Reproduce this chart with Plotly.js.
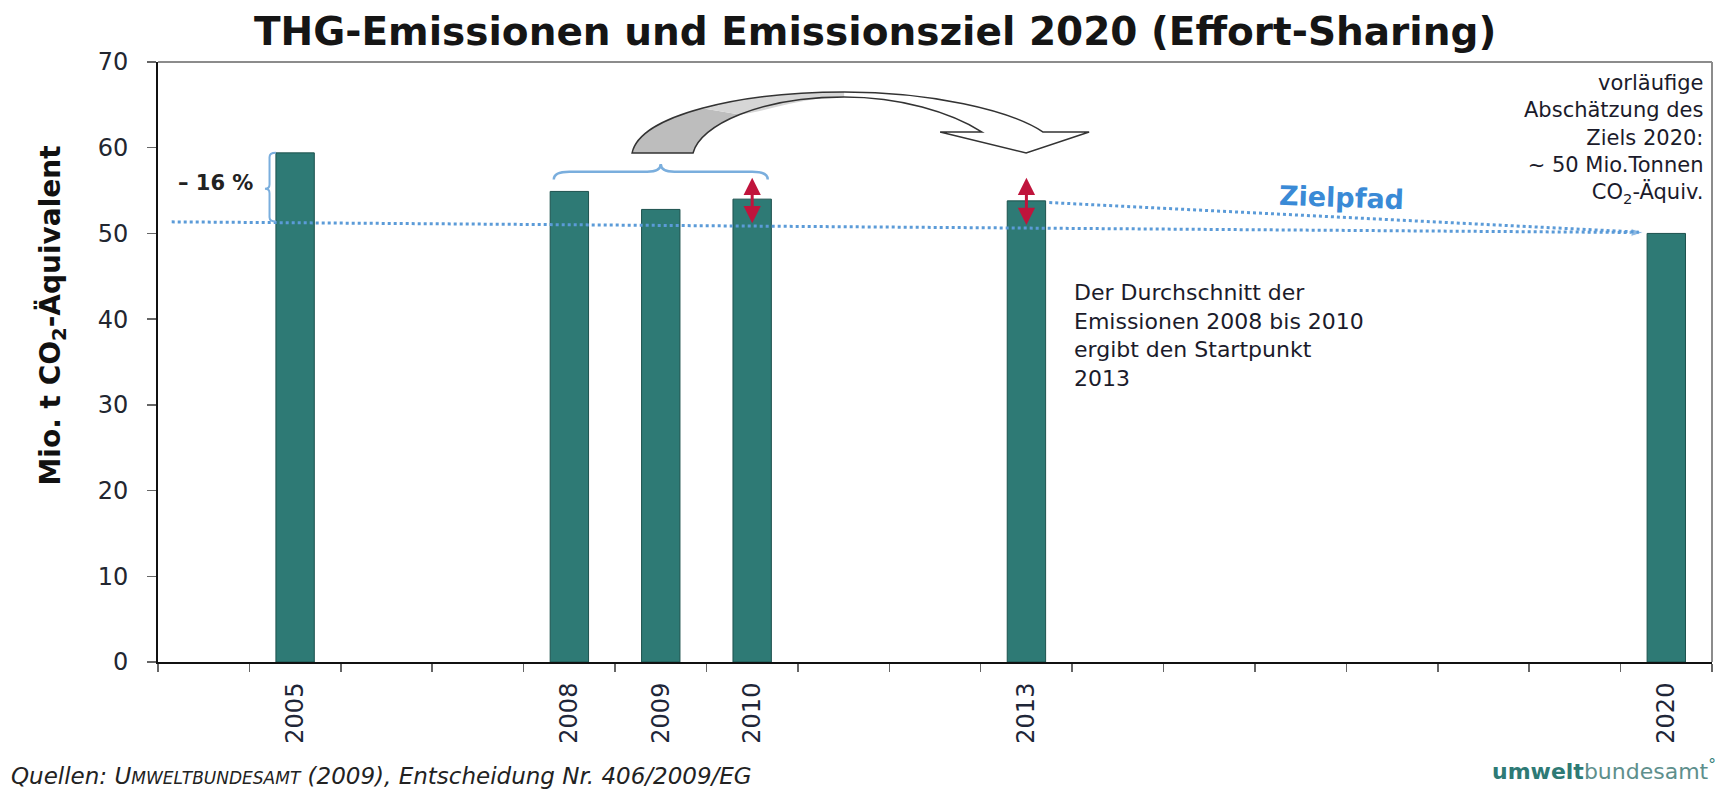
<!DOCTYPE html>
<html>
<head>
<meta charset="utf-8">
<script src="https://cdn.plot.ly/plotly-3.0.1.min.js"></script>
<style>
  html, body { margin: 0; padding: 0; background: #ffffff; }
  #chart { width: 1726px; height: 792px; }
</style>
</head>
<body>
<div id="chart"></div>
<script>
// ---------- data ----------
const years = [2005, 2008, 2009, 2010, 2013, 2020];
const emissions = [59.4, 54.9, 52.8, 54.0, 53.8, 50.0];
const yearLabels = ['2005', '2008', '2009', '2010', '2013', '2020'];

// reference line (2005 minus 16 %) and target path ("Zielpfad")
const basisX = [2003.65, 2019.75];
const basisY = [51.35, 50.1];
const zielpfadX = [2013.25, 2019.7];
const zielpfadY = [53.6, 50.15];

// red double arrows (gap between bars and the path)
const gapYears = [2010, 2013];
const gapTop = [56.5, 56.5];
const gapBottom = [51.0, 50.8];

const yTicks = [0, 10, 20, 30, 40, 50, 60, 70];
const xRange = [2003.5, 2020.5];

// ---------- style ----------
const FONT = 'DejaVu Sans, Verdana, sans-serif';
const TEAL = '#2E7A75';
const BLUE = '#5B9BD8';
const RED = '#C0143C';

const boundaries = [];
for (let b = xRange[0]; b <= xRange[1] + 1e-9; b += 1) boundaries.push(b);

const traces = [
  {
    type: 'bar',
    x: years,
    y: emissions,
    width: 0.42,
    marker: { color: TEAL, line: { color: '#1D524E', width: 1 } },
    hoverinfo: 'x+y',
    showlegend: false
  },
  {
    type: 'scatter',
    mode: 'lines+markers',
    x: basisX,
    y: basisY,
    line: { color: BLUE, width: 3, dash: 'dot' },
    marker: { symbol: 'arrow', angleref: 'previous', size: [0, 13], color: BLUE },
    hoverinfo: 'skip',
    showlegend: false
  },
  {
    type: 'scatter',
    mode: 'lines',
    x: zielpfadX,
    y: zielpfadY,
    line: { color: BLUE, width: 3, dash: 'dot' },
    hoverinfo: 'skip',
    showlegend: false
  }
];

const annotations = [
  // y axis title
  {
    xref: 'paper', yref: 'paper', x: -0.068, y: 0.578,
    text: '<b>Mio. t CO<sub>2</sub>-Äquivalent</b>',
    textangle: -90, showarrow: false,
    font: { family: FONT, size: 28, color: '#111111' },
    xanchor: 'center', yanchor: 'middle'
  },
  // -16 %
  {
    xref: 'x', yref: 'y', x: 2004.13, y: 55.9,
    text: '<b>– 16 %</b>', showarrow: false,
    font: { family: FONT, size: 21, color: '#222222' },
    xanchor: 'center', yanchor: 'middle'
  },
  // Zielpfad
  {
    xref: 'x', yref: 'y', x: 2016.45, y: 54.15,
    text: '<b>Zielpfad</b>', showarrow: false, textangle: 2,
    font: { family: FONT, size: 27, color: '#3A8AD6' },
    xanchor: 'center', yanchor: 'middle'
  },
  // explanation text
  {
    xref: 'x', yref: 'y', x: 2013.5, y: 44.8,
    text: 'Der Durchschnitt der<br>Emissionen 2008 bis 2010<br>ergibt den Startpunkt<br>2013',
    showarrow: false, align: 'left',
    font: { family: FONT, size: 22, color: '#1b1b2b' },
    xanchor: 'left', yanchor: 'top'
  },
  // target estimate text
  {
    xref: 'x', yref: 'y', x: 2020.42, y: 69.2,
    text: 'vorläufige<br>Abschätzung des<br>Ziels 2020:<br>~ 50 Mio.Tonnen<br>CO<sub>2</sub>-Äquiv.',
    showarrow: false, align: 'right',
    font: { family: FONT, size: 21, color: '#1b1b2b' },
    xanchor: 'right', yanchor: 'top'
  },
  // footer source
  {
    xref: 'paper', yref: 'paper', x: -0.0959, y: -0.19,
    text: '<i>Quellen: U<span style="font-size:17px">MWELTBUNDESAMT</span> (2009), Entscheidung Nr. 406/2009/EG</i>',
    showarrow: false, align: 'left',
    font: { family: FONT, size: 23, color: '#222222' },
    xanchor: 'left', yanchor: 'middle'
  },
  // logo text
  {
    xref: 'paper', yref: 'paper', x: 1.004, y: -0.18,
    text: '<b>umwelt</b><span style="color:#5E8F8C">bundesamt</span><sup>°</sup>',
    showarrow: false, align: 'right',
    font: { family: FONT, size: 22, color: '#2E7A75' },
    xanchor: 'right', yanchor: 'middle'
  }
];

// red double arrows
gapYears.forEach(function (yr, i) {
  annotations.push({
    xref: 'x', yref: 'y', axref: 'x', ayref: 'y',
    x: yr, y: gapTop[i], ax: yr, ay: gapBottom[i],
    text: '', showarrow: true,
    arrowhead: 2, startarrowhead: 2, arrowside: 'end+start',
    arrowsize: 1.15, startarrowsize: 1.15,
    arrowwidth: 3, arrowcolor: RED,
    standoff: 0, startstandoff: 0
  });
});

const arrowPath = 'M 2008.686,59.38 C 2008.773,63.81 2009.868,66.50 2011.006,66.50 ' +
  'C 2011.946,66.50 2012.822,64.40 2013.183,61.83 ' +
  'L 2013.686,61.83 L 2012.997,59.38 L 2012.056,61.83 L 2012.515,61.83 ' +
  'C 2012.165,64.16 2011.618,65.91 2011.006,65.91 ' +
  'C 2010.086,65.91 2009.431,62.67 2009.353,59.38 Z';

const shapes = [
  // top and right frame (grey)
  { type: 'line', xref: 'paper', yref: 'paper', x0: 0, x1: 1, y0: 1, y1: 1,
    line: { color: '#8C8C8C', width: 2 } },
  { type: 'line', xref: 'paper', yref: 'paper', x0: 1, x1: 1, y0: 0, y1: 1,
    line: { color: '#8C8C8C', width: 2 } },
  // curved arrow: white body
  { type: 'path', xref: 'x', yref: 'y', layer: 'above', path: arrowPath,
    fillcolor: '#ffffff', line: { color: 'rgba(0,0,0,0)', width: 0 } },
  // grey gradient-like tail bands
  { type: 'path', xref: 'x', yref: 'y', layer: 'above',
    path: 'M 2008.686,59.38 C 2008.730,61.60 2009.025,63.38 2009.452,64.60 ' +
          'L 2009.863,63.87 C 2009.575,62.67 2009.392,61.02 2009.353,59.38 Z',
    fillcolor: '#BDBDBD', line: { color: 'rgba(0,0,0,0)', width: 0 } },
  { type: 'path', xref: 'x', yref: 'y', layer: 'above',
    path: 'M 2009.452,64.60 C 2009.878,65.83 2010.437,66.50 2011.006,66.50 ' +
          'L 2011.006,65.91 C 2010.546,65.91 2010.152,64.20 2009.863,63.87 Z',
    fillcolor: '#D6D6D6', line: { color: 'rgba(0,0,0,0)', width: 0 } },
  // outline of curved arrow
  { type: 'path', xref: 'x', yref: 'y', layer: 'above', path: arrowPath,
    fillcolor: 'rgba(0,0,0,0)', line: { color: '#333333', width: 1.5 } },
  // brace over 2008-2010
  { type: 'path', xref: 'x', yref: 'y', layer: 'above',
    path: 'M 2007.83,56.3 Q 2007.83,57.2 2008.0,57.2 L 2008.85,57.2 ' +
          'Q 2009.0,57.2 2009.0,58.1 Q 2009.0,57.2 2009.15,57.2 ' +
          'L 2010.0,57.2 Q 2010.17,57.2 2010.17,56.3',
    line: { color: '#7AAEDD', width: 2.5 } },
  // brace next to 2005 bar
  { type: 'path', xref: 'x', yref: 'y', layer: 'above',
    path: 'M 2004.79,59.4 Q 2004.72,59.4 2004.72,58.9 L 2004.72,55.7 ' +
          'Q 2004.72,55.2 2004.67,55.2 Q 2004.72,55.2 2004.72,54.7 ' +
          'L 2004.72,51.9 Q 2004.72,51.4 2004.79,51.4',
    line: { color: '#7AAEDD', width: 2 } }
];

const layout = {
  width: 1726,
  height: 792,
  paper_bgcolor: '#ffffff',
  plot_bgcolor: '#ffffff',
  margin: { l: 158, r: 14, t: 62, b: 130 },
  title: {
    text: '<b>THG-Emissionen und Emissionsziel 2020 (Effort-Sharing)</b>',
    xref: 'container', yref: 'container',
    x: 0.507, y: 0.96, xanchor: 'center', yanchor: 'middle',
    font: { family: FONT, size: 39, color: '#151515' }
  },
  xaxis: {
    range: xRange,
    tickmode: 'array',
    tickvals: years,
    ticktext: yearLabels,
    tickangle: -90,
    ticks: '',
    ticklabelstandoff: 9,
    tickfont: { family: FONT, size: 24, color: '#1E2638' },
    showgrid: false,
    zeroline: false,
    showline: true,
    linecolor: '#111111',
    linewidth: 2,
    minor: {
      tickmode: 'array',
      tickvals: boundaries,
      ticks: 'outside',
      ticklen: 8,
      tickwidth: 1.5,
      tickcolor: '#666666',
      showgrid: false
    },
    fixedrange: true
  },
  yaxis: {
    range: [0, 70],
    tickmode: 'array',
    tickvals: yTicks,
    ticks: 'outside',
    ticklen: 9,
    tickwidth: 1.5,
    tickcolor: '#666666',
    ticklabelstandoff: 14,
    tickfont: { family: FONT, size: 24, color: '#222630' },
    showgrid: false,
    zeroline: false,
    showline: true,
    linecolor: '#111111',
    linewidth: 2,
    fixedrange: true
  },
  bargap: 0,
  showlegend: false,
  annotations: annotations,
  shapes: shapes
};

Plotly.newPlot('chart', traces, layout, { displayModeBar: false, staticPlot: true });
</script>
</body>
</html>
